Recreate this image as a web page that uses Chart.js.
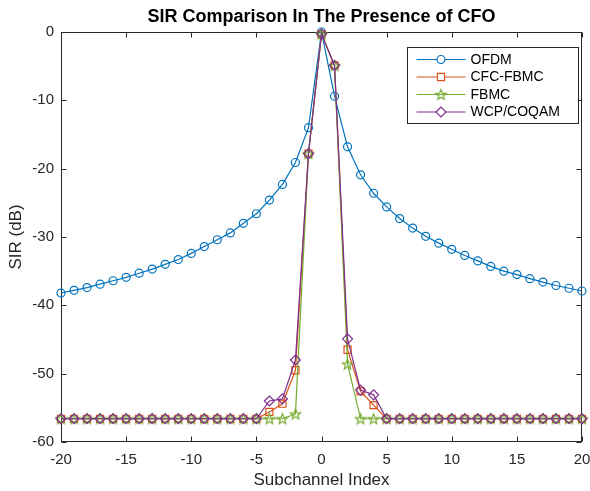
<!DOCTYPE html>
<html>
<head>
<meta charset="utf-8">
<script src="https://cdn.jsdelivr.net/npm/chart.js@4.4.1/dist/chart.umd.min.js"></script>
<style>
  html, body { margin: 0; padding: 0; background: #fff; }
  #wrap { width: 590px; height: 491px; }
</style>
</head>
<body>
<div id="wrap"><canvas id="sirChart" width="590" height="491"></canvas></div>
<script>
// subchannel index -20 .. 20
const subchannels = [-20, -19, -18, -17, -16, -15, -14, -13, -12, -11, -10, -9, -8, -7, -6, -5, -4, -3, -2, -1, 0,
                     1, 2, 3, 4, 5, 6, 7, 8, 9, 10, 11, 12, 13, 14, 15, 16, 17, 18, 19, 20];

const ofdm = [-38.2, -37.8, -37.4, -36.9, -36.4, -35.9, -35.3, -34.7, -34.0, -33.3, -32.4, -31.4, -30.4, -29.4, -28.0, -26.6, -24.6, -22.3, -19.1, -14.0, 0.0,
              -9.4, -16.8, -20.9, -23.6, -25.6, -27.3, -28.7, -29.9, -30.9, -31.8, -32.7, -33.5, -34.3, -35.0, -35.5, -36.1, -36.6, -37.1, -37.5, -37.9];

const cfcFbmc = [-56.6, -56.6, -56.6, -56.6, -56.6, -56.6, -56.6, -56.6, -56.6, -56.6, -56.6, -56.6, -56.6, -56.6, -56.6, -56.6, -55.6, -54.4, -49.5, -17.8, -0.3,
                 -4.9, -46.5, -52.6, -54.6, -56.6, -56.6, -56.6, -56.6, -56.6, -56.6, -56.6, -56.6, -56.6, -56.6, -56.6, -56.6, -56.6, -56.6, -56.6, -56.6];

const fbmc = [-56.6, -56.6, -56.6, -56.6, -56.6, -56.6, -56.6, -56.6, -56.6, -56.6, -56.6, -56.6, -56.6, -56.6, -56.6, -56.6, -56.6, -56.6, -55.9, -17.8, -0.3,
              -4.9, -48.6, -56.6, -56.6, -56.6, -56.6, -56.6, -56.6, -56.6, -56.6, -56.6, -56.6, -56.6, -56.6, -56.6, -56.6, -56.6, -56.6, -56.6, -56.6];

const wcpCoqam = [-56.6, -56.6, -56.6, -56.6, -56.6, -56.6, -56.6, -56.6, -56.6, -56.6, -56.6, -56.6, -56.6, -56.6, -56.6, -56.6, -54.0, -53.7, -48.0, -17.8, -0.3,
                  -4.9, -44.9, -52.4, -53.1, -56.6, -56.6, -56.6, -56.6, -56.6, -56.6, -56.6, -56.6, -56.6, -56.6, -56.6, -56.6, -56.6, -56.6, -56.6, -56.6];

const xTicks = [-20, -15, -10, -5, 0, 5, 10, 15, 20];
const yTicks = [-60, -50, -40, -30, -20, -10, 0];

const axisColor = "#262626";
const fontFamily = "'Liberation Sans', Arial, Helvetica, sans-serif";

function makeStar(color) {
    const c = document.createElement("canvas");
    c.width = 15;
    c.height = 15;
    const g = c.getContext("2d");
    g.strokeStyle = color;
    g.lineWidth = 1.2;
    g.beginPath();
    for (let i = 0; i < 10; i++) {
        const r = i % 2 === 0 ? 5.5 : 2.3;
        const a = -Math.PI / 2 + i * Math.PI / 5;
        const px = 7.5 + r * Math.cos(a);
        const py = 8 + r * Math.sin(a);
        if (i === 0) g.moveTo(px, py); else g.lineTo(px, py);
    }
    g.closePath();
    g.stroke();
    return c;
}

function series(label, values, color, style, radius, order) {
    return {
        label: label,
        data: values.map((v, i) => ({ x: subchannels[i], y: v })),
        borderColor: color,
        backgroundColor: "rgba(0,0,0,0)",
        borderWidth: 1.2,
        pointStyle: style,
        pointRadius: radius,
        pointBorderWidth: 1.2,
        pointBorderColor: color,
        pointBackgroundColor: "rgba(0,0,0,0)",
        tension: 0,
        clip: false,
        order: order
    };
}

const datasets = [
    series("OFDM", ofdm, "#0072BD", "circle", 4, 3),
    series("CFC-FBMC", cfcFbmc, "#D95319", "rect", 5, 2),
    series("FBMC", fbmc, "#77AC30", makeStar("#77AC30"), 6, 1),
    series("WCP/COQAM", wcpCoqam, "#7E2F8E", "rectRot", 5, 0)
];

// MATLAB style box with inward ticks
const framePlugin = {
    id: "frame",
    beforeDatasetsDraw(chart) {
        const { ctx, chartArea: a, scales } = chart;
        ctx.save();
        ctx.strokeStyle = axisColor;
        ctx.lineWidth = 1;
        const l = Math.round(a.left) + 0.5, r = Math.round(a.right) - 0.5;
        const t = Math.round(a.top) + 0.5, b = Math.round(a.bottom) - 0.5;
        ctx.strokeRect(l, t, r - l, b - t);
        ctx.beginPath();
        xTicks.forEach(v => {
            const px = Math.round(scales.x.getPixelForValue(v)) + 0.5;
            ctx.moveTo(px, b); ctx.lineTo(px, b - 5);
            ctx.moveTo(px, t); ctx.lineTo(px, t + 5);
        });
        yTicks.forEach(v => {
            const py = Math.round(scales.y.getPixelForValue(v)) + 0.5;
            ctx.moveTo(l, py); ctx.lineTo(l + 5, py);
            ctx.moveTo(r, py); ctx.lineTo(r - 5, py);
        });
        ctx.stroke();
        ctx.restore();
    },
    afterDraw(chart) {
        const { ctx, chartArea: a } = chart;
        ctx.save();
        ctx.fillStyle = "#000";
        ctx.font = "bold 18px " + fontFamily;
        ctx.textAlign = "center";
        ctx.textBaseline = "middle";
        ctx.fillText("SIR Comparison In The Presence of CFO", (a.left + a.right) / 2, 17);
        ctx.restore();
    }
};

const legendPlugin = {
    id: "boxLegend",
    afterDraw(chart) {
        const { ctx, chartArea: a } = chart;
        const bx = Math.round(a.right) - 174.5, by = Math.round(a.top) + 15.5, bw = 171, bh = 76;
        ctx.save();
        ctx.fillStyle = "#fff";
        ctx.fillRect(bx, by, bw, bh);
        ctx.strokeStyle = axisColor;
        ctx.lineWidth = 1;
        ctx.strokeRect(bx, by, bw, bh);
        ctx.font = "14px " + fontFamily;
        ctx.textBaseline = "middle";
        ctx.textAlign = "left";
        datasets.forEach((ds, i) => {
            const y = by + 12 + i * 17.5;
            ctx.strokeStyle = ds.borderColor;
            ctx.lineWidth = 1.2;
            ctx.beginPath();
            ctx.moveTo(bx + 9, y);
            ctx.lineTo(bx + 58, y);
            ctx.stroke();
            ctx.fillStyle = "#fff";
            Chart.helpers.drawPoint(ctx, {
                pointStyle: ds.pointStyle,
                radius: ds.pointRadius,
                borderWidth: 1.2,
                rotation: 0
            }, bx + 33.5, y);
            ctx.fillStyle = "#000";
            ctx.fillText(ds.label, bx + 63, y + 0.5);
        });
        ctx.restore();
    }
};

new Chart(document.getElementById("sirChart"), {
    type: "line",
    data: { datasets: datasets },
    options: {
        responsive: false,
        animation: false,
        devicePixelRatio: 1,
        layout: { padding: { top: 32, right: 8, left: 0, bottom: 0 } },
        plugins: {
            legend: { display: false },
            tooltip: { enabled: false },
            title: { display: false }
        },
        scales: {
            x: {
                type: "linear",
                min: -20,
                max: 20,
                afterFit: s => { s.height = 49; s.paddingLeft = 0; s.paddingRight = 0; },
                afterBuildTicks: s => { s.ticks = xTicks.map(v => ({ value: v })); },
                grid: { display: false, drawTicks: false },
                border: { display: false },
                ticks: {
                    padding: 9,
                    color: axisColor,
                    font: { size: 15, family: fontFamily },
                    maxRotation: 0
                },
                title: {
                    display: true,
                    text: "Subchannel Index",
                    color: axisColor,
                    font: { size: 17, family: fontFamily },
                    padding: { top: 0, bottom: 0 }
                }
            },
            y: {
                type: "linear",
                min: -60,
                max: 0,
                afterFit: s => { s.width = 61; s.paddingTop = 0; s.paddingBottom = 0; },
                afterBuildTicks: s => { s.ticks = yTicks.map(v => ({ value: v })); },
                grid: { display: false, drawTicks: false },
                border: { display: false },
                ticks: {
                    padding: 7,
                    color: axisColor,
                    font: { size: 15, family: fontFamily }
                },
                title: {
                    display: true,
                    text: "SIR (dB)",
                    color: axisColor,
                    font: { size: 17, family: fontFamily },
                    padding: { top: 6, bottom: 0 }
                }
            }
        }
    },
    plugins: [framePlugin, legendPlugin]
});
</script>
</body>
</html>
